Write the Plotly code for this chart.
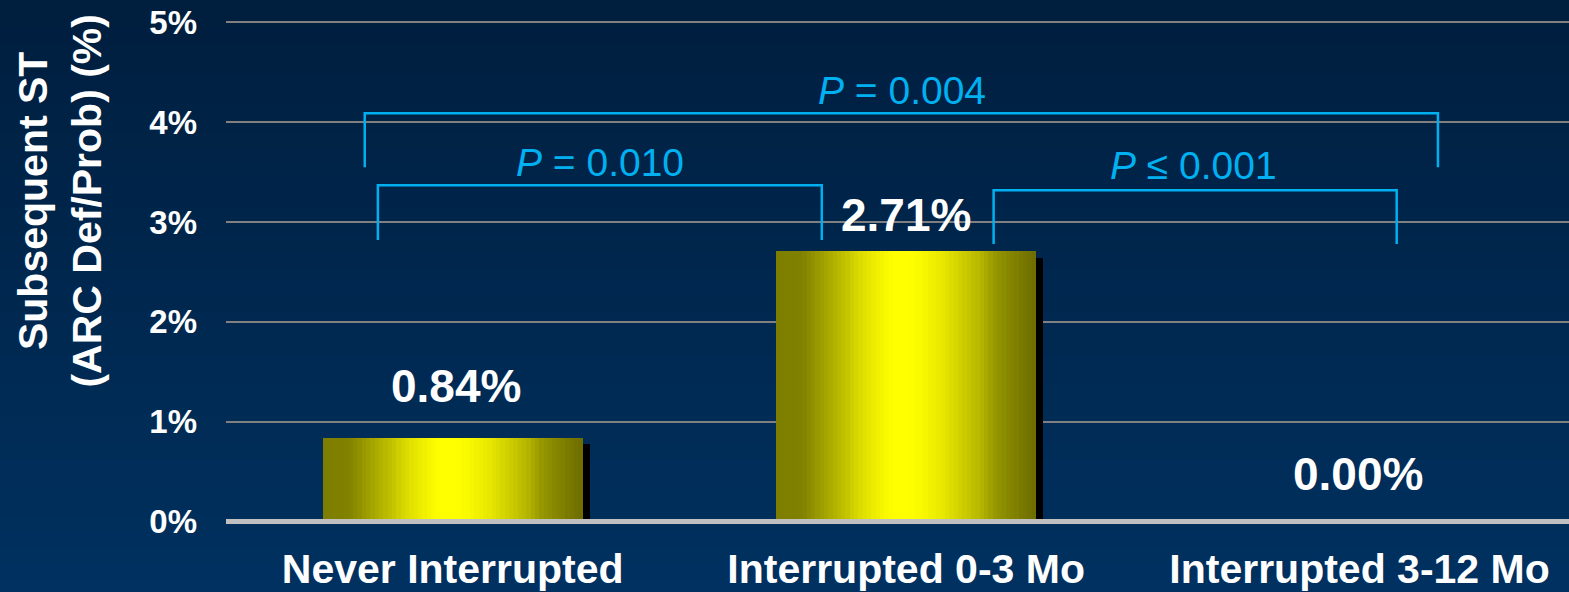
import plotly.graph_objects as go

# ---------------- data ----------------
categories = ["Never Interrupted", "Interrupted 0-3 Mo", "Interrupted 3-12 Mo"]
values = [0.84, 2.71, 0.00]
value_labels = ["0.84%", "2.71%", "0.00%"]
y_ticks = [0, 1, 2, 3, 4, 5]
y_tick_labels = ["0%", "1%", "2%", "3%", "4%", "5%"]
y_title = "Subsequent ST<br>(ARC Def/Prob) (%)"

p_labels = ["<i>P</i> = 0.010", "<i>P</i> \u2264 0.001", "<i>P</i> = 0.004"]
bracket_left = [-0.165, 1.193, -0.194]
bracket_right = [0.814, 2.082, 2.173]
bracket_top = [3.37, 3.32, 4.09]
bracket_bottom = [2.82, 2.78, 3.55]
p_label_x = [0.324, 1.634, 0.99]
p_label_y = [3.60, 3.57, 4.32]

# ---------------- style ----------------
FONT = "Liberation Sans, Arial, sans-serif"
BLUE = "#00b0f0"
BAR_W = 0.573
N_SLICES = 60
grad_stops = [
    (0.00, 125), (0.10, 129), (0.20, 168), (0.26, 192), (0.33, 222),
    (0.39, 240), (0.45, 255), (0.52, 255), (0.58, 245), (0.64, 232),
    (0.71, 208), (0.78, 184), (0.84, 152), (0.90, 133), (0.97, 115), (1.00, 110),
]


def grad_color(t):
    for (t0, c0), (t1, c1) in zip(grad_stops[:-1], grad_stops[1:]):
        if t0 <= t <= t1:
            c = c0 + (c1 - c0) * (t - t0) / (t1 - t0 if t1 > t0 else 1)
            c = int(round(c))
            return f"rgb({c},{c},0)"
    c = grad_stops[-1][1]
    return f"rgb({c},{c},0)"


xpos = list(range(len(categories)))
fig = go.Figure()

# shadow
fig.add_trace(go.Bar(
    x=xpos, y=[v + 0.005 for v in values], base=-0.07,
    width=BAR_W, offset=-BAR_W / 2 + 0.0154,
    marker=dict(color="black", line=dict(width=0)),
    hoverinfo="skip", showlegend=False,
))

# gradient bars built from vertical slices
sw = BAR_W / N_SLICES
for i in range(N_SLICES):
    t = (i + 0.5) / N_SLICES
    fig.add_trace(go.Bar(
        x=xpos, y=values,
        width=sw * (1.6 if i < N_SLICES - 1 else 1.0),
        offset=-BAR_W / 2 + i * sw,
        marker=dict(color=grad_color(t), line=dict(width=0)),
        hoverinfo="skip", showlegend=False,
    ))

# background gradient bands (paper coords)
shapes = []
plot_h = 524.0
n_bands = 40
top_rgb = (0, 30, 62)
bot_rgb = (0, 49, 96)
for k in range(n_bands):
    p0 = 592 * k / n_bands
    p1 = 592 * (k + 1) / n_bands + 1
    f = (k + 0.5) / n_bands
    col = tuple(int(round(a + (b - a) * f)) for a, b in zip(top_rgb, bot_rgb))
    shapes.append(dict(
        type="rect", xref="paper", yref="paper", layer="below",
        x0=-0.2, x1=1.05, y0=(plot_h - p1) / plot_h, y1=(plot_h - p0) / plot_h,
        fillcolor=f"rgb{col}", line=dict(width=0),
    ))

# zero line on top of bars
shapes.append(dict(type="line", xref="paper", yref="y", x0=0, x1=1, y0=0, y1=0,
                   line=dict(color="#c0c0c0", width=5), layer="above"))

# significance brackets
for xl, xr, yt, yb in zip(bracket_left, bracket_right, bracket_top, bracket_bottom):
    shapes.append(dict(
        type="path", xref="x", yref="y",
        path=f"M {xl},{yb} L {xl},{yt} L {xr},{yt} L {xr},{yb}",
        line=dict(color=BLUE, width=2.5), layer="above",
    ))

annotations = []
label_shift = [52, 36, 48]
for x, v, lab, sh in zip(xpos, values, value_labels, label_shift):
    annotations.append(dict(
        x=x, y=v, xref="x", yref="y", text=lab, showarrow=False,
        yanchor="middle", yshift=sh, xshift=3 if x == 0 else (-2 if x == 2 else 0),
        font=dict(family=FONT, size=46, color="white", weight="bold"),
    ))
for lab, x, y in zip(p_labels, p_label_x, p_label_y):
    annotations.append(dict(
        x=x, y=y, xref="x", yref="y", text=lab, showarrow=False,
        xanchor="center", yanchor="middle",
        font=dict(family=FONT, size=39, color=BLUE),
    ))
annotations.append(dict(
    x=-0.124, y=3.22, xref="paper", yref="y", text=y_title, showarrow=False,
    textangle=-90, xanchor="center", yanchor="middle",
    font=dict(family=FONT, size=41, color="white", weight="bold"),
))

fig.update_layout(
    width=1569, height=592,
    margin=dict(l=226, r=0, t=0, b=68),
    paper_bgcolor="rgb(0,49,96)",
    plot_bgcolor="rgba(0,0,0,0)",
    barmode="overlay",
    bargap=0,
    showlegend=False,
    shapes=shapes,
    annotations=annotations,
    xaxis=dict(
        range=[-0.5, 2.462], tickvals=xpos, ticktext=categories,
        showgrid=False, zeroline=False, showline=False, ticks="",
        ticklabelstandoff=17,
        tickfont=dict(family=FONT, size=41, color="white", weight="bold"),
        fixedrange=True,
    ),
    yaxis=dict(
        range=[-0.025, 5.225], tickvals=y_ticks, ticktext=y_tick_labels,
        showgrid=True, gridcolor="#808080", gridwidth=2,
        zeroline=False, showline=False, ticks="",
        ticklabelstandoff=28,
        tickfont=dict(family=FONT, size=33, color="white", weight="bold"),
        fixedrange=True,
    ),
)

fig.write_html("out.html")
